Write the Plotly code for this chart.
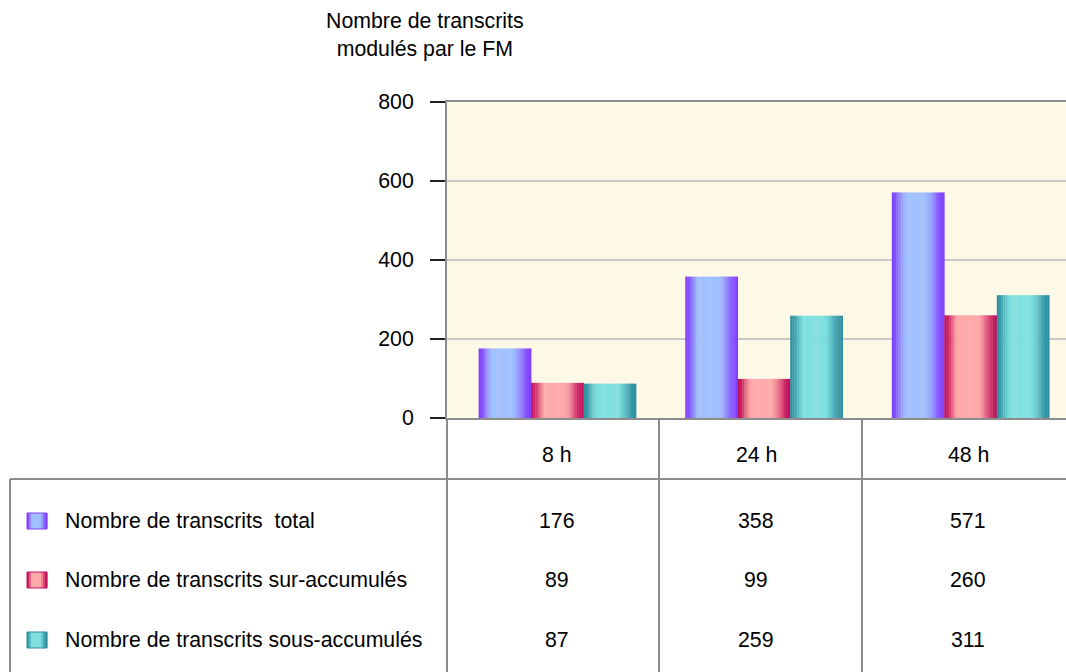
import plotly.graph_objects as go

# ---------------- data ----------------
categories = ["8 h", "24 h", "48 h"]
series_names = [
    "Nombre de transcrits  total",
    "Nombre de transcrits sur-accumulés",
    "Nombre de transcrits sous-accumulés",
]
total_values = [176, 358, 571]
sur_values = [89, 99, 260]
sous_values = [87, 259, 311]
y_ticks = [0, 200, 400, 600, 800]
y_title = "Nombre de transcrits<br>modulés par le FM"

# ---------------- style ----------------
W, H = 1066, 672
FONT = "Liberation Sans, Arial, sans-serif"
FS = 21.3
series_values = [total_values, sur_values, sous_values]
dark_cols = [(128, 64, 255), (192, 16, 90), (46, 144, 160)]
light_cols = [(160, 192, 255), (255, 170, 170), (128, 224, 224)]
LINE = "#8C8C8C"

def px(x):
    return x / W

def py(y):
    return 1 - y / H

def smooth(u):
    u = max(0.0, min(1.0, u))
    return u * u * (3 - 2 * u)

def profile(t):
    if t < 0.28:
        return smooth(t / 0.28)
    if t < 0.62:
        return 1.0
    return smooth((1 - t) / 0.38)

def mix(d, l, f):
    return "rgb(%d,%d,%d)" % tuple(round(d[i] + (l[i] - d[i]) * f) for i in range(3))

fig = go.Figure()

BW = 0.254
N = 24
for s in range(3):
    base = -1.5 * BW + s * BW
    for k in range(N):
        t = (k + 0.5) / N
        fig.add_bar(
            x=categories, y=series_values[s],
            width=BW / N * 1.15, offset=base + k * BW / N,
            marker=dict(color=mix(dark_cols[s], light_cols[s], profile(t)), line=dict(width=0)),
            showlegend=False, hoverinfo="skip",
        )

x0, x1 = 447, W
y_top, y_bot = 102, 418

fig.update_layout(
    width=W, height=H,
    autosize=False,
    margin=dict(l=0, r=0, t=0, b=0, pad=0, autoexpand=False),
    paper_bgcolor="white",
    plot_bgcolor="#FEF8E7",
    barmode="overlay",
    font=dict(family=FONT, size=FS, color="black"),
    xaxis=dict(
        domain=[px(x0), 1], range=[-0.534, 2.462], type="category",
        showticklabels=False, ticks="", showgrid=False, automargin=False,
        showline=True, mirror=True, linecolor=LINE, linewidth=2, zeroline=False,
    ),
    yaxis=dict(
        domain=[py(y_bot), py(y_top)], range=[0, 800], automargin=False,
        tickvals=y_ticks, ticks="outside", ticklen=15, tickwidth=2, tickcolor="#202020",
        ticklabelstandoff=12,
        showgrid=True, gridcolor="#C8C8C8", gridwidth=2,
        showline=True, linecolor=LINE, linewidth=2, zeroline=False,
        tickfont=dict(family=FONT, size=FS, color="black"),
    ),
)

# title
fig.add_annotation(
    text=y_title, xref="paper", yref="paper", x=px(425), y=py(35.5),
    xanchor="center", yanchor="middle", showarrow=False, align="center",
    font=dict(family=FONT, size=FS, color="black"),
)

# ---------------- data table ----------------
shapes = []
col_edges = [447, 659, 862, W]
for xe in col_edges[:3]:
    shapes.append(dict(type="line", xref="paper", yref="paper",
                       x0=px(xe), x1=px(xe), y0=py(y_bot), y1=py(H),
                       line=dict(color=LINE, width=2)))
shapes.append(dict(type="line", xref="paper", yref="paper",
                   x0=px(10), x1=1, y0=py(479), y1=py(479),
                   line=dict(color=LINE, width=2)))
shapes.append(dict(type="line", xref="paper", yref="paper",
                   x0=px(10), x1=px(10), y0=py(479), y1=py(H),
                   line=dict(color=LINE, width=2)))

col_text_x = [557, 756, 968]
for i, c in enumerate(categories):
    fig.add_annotation(text=c, xref="paper", yref="paper", x=px(col_text_x[i]), y=py(455),
                       xanchor="center", yanchor="middle", showarrow=False,
                       font=dict(family=FONT, size=FS, color="black"))

row_y = [521, 580, 640]
for s in range(3):
    for i in range(3):
        fig.add_annotation(text=str(series_values[s][i]), xref="paper", yref="paper",
                           x=px(col_text_x[i]), y=py(row_y[s]),
                           xanchor="center", yanchor="middle", showarrow=False,
                           font=dict(family=FONT, size=FS, color="black"))
    fig.add_annotation(text=series_names[s], xref="paper", yref="paper",
                       x=px(63), y=py(row_y[s]), xanchor="left", yanchor="middle",
                       showarrow=False, font=dict(family=FONT, size=FS, color="black"))
    # gradient legend swatch
    sx0, sx1 = 27, 47
    M = 10
    for k in range(M):
        t = (k + 0.5) / M
        a = sx0 + (sx1 - sx0) * k / M
        b = sx0 + (sx1 - sx0) * (k + 1) / M + 0.3
        shapes.append(dict(type="rect", xref="paper", yref="paper",
                           x0=px(a), x1=px(b), y0=py(row_y[s] + 8), y1=py(row_y[s] - 8),
                           fillcolor=mix(dark_cols[s], light_cols[s], profile(t)),
                           line=dict(width=0)))
    shapes.append(dict(type="rect", xref="paper", yref="paper",
                       x0=px(sx0), x1=px(sx1), y0=py(row_y[s] + 8), y1=py(row_y[s] - 8),
                       fillcolor="rgba(0,0,0,0)",
                       line=dict(width=1, color=mix(dark_cols[s], dark_cols[s], 0))))

fig.update_layout(shapes=shapes)
fig.write_html(
    "out.html",
    config={"displayModeBar": False},
    post_script="document.body.style.margin='0';document.body.style.overflow='hidden';",
)
